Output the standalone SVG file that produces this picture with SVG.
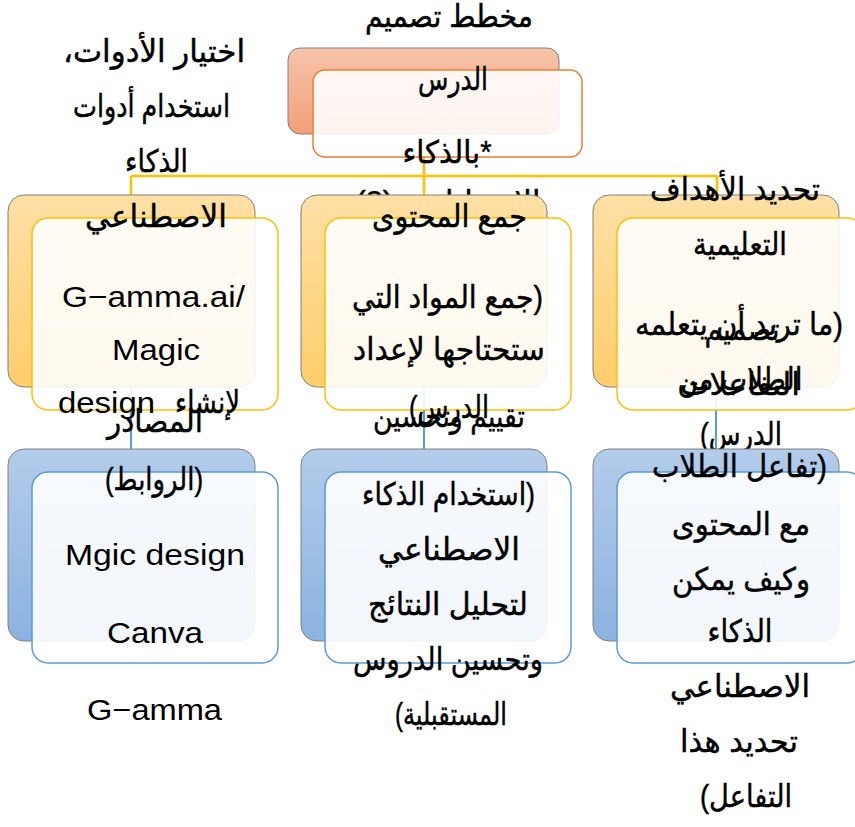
<svg xmlns="http://www.w3.org/2000/svg" width="855" height="827" viewBox="0 0 855 827">
  <defs>
    <linearGradient id="gOrange" x1="0" y1="0" x2="0" y2="1">
      <stop offset="0" stop-color="#F7C4AA"/>
      <stop offset="1" stop-color="#F29F78"/>
    </linearGradient>
    <linearGradient id="gGold" x1="0" y1="0" x2="0" y2="1">
      <stop offset="0" stop-color="#FFE0A6"/>
      <stop offset="1" stop-color="#FFCD6A"/>
    </linearGradient>
    <linearGradient id="gBlue" x1="0" y1="0" x2="0" y2="1">
      <stop offset="0" stop-color="#B3CCEA"/>
      <stop offset="1" stop-color="#8BB2E1"/>
    </linearGradient>
    <style>
      .back { stroke: #808080; stroke-width: 1; }
      .orange { fill: url(#gOrange); }
      .gold { fill: url(#gGold); }
      .blue { fill: url(#gBlue); }
      .front { fill: #FFFFFF; fill-opacity: 0.89; stroke-width: 1.5; }
      .fo { stroke: #EE7E36; }
      .fg { stroke: #FFC000; }
      .fb { stroke: #5B9BD5; }
      .t { font-family: "Liberation Sans", "DejaVu Sans", sans-serif; font-size: 30px; fill: #000000; text-anchor: middle; }
      .ar { direction: rtl; font-size: 31px; stroke: #000000; stroke-width: 0.45; }
      .c1 { fill: none; stroke: #FFC000; stroke-width: 2.5; }
      .c2 { fill: none; stroke: #5B9BD5; stroke-width: 2; }
    </style>
  </defs>

  <rect width="855" height="827" fill="#FFFFFF"/>

  <!-- connectors -->
  <g id="connectors">
    <path class="c1" d="M424 134 V176 M131 176 H717 M131 176 V195 M424 176 V195 M717 176 V195"/>
    <path class="c2" d="M131 387 V449 M424 387 V449 M716 387 V449"/>
  </g>

  <!-- root -->
  <g id="node-root">
    <rect class="back orange" x="288" y="48" width="271" height="86" rx="12"/>
    <rect class="front fo" x="313" y="70" width="269" height="87" rx="12"/>
    <text class="t ar" x="449" y="27" textLength="168" lengthAdjust="spacingAndGlyphs">مخطط تصميم</text>
    <text class="t ar" x="453" y="90" textLength="70" lengthAdjust="spacingAndGlyphs">الدرس</text>
    <text class="t ar" x="447" y="163" textLength="89" lengthAdjust="spacingAndGlyphs">*بالذكاء</text>
    <text class="t ar" x="448" y="213" textLength="185" lengthAdjust="spacingAndGlyphs">الاصطناعي (2)</text>
  </g>

  <!-- level 2: tools -->
  <g id="node-tools">
    <rect class="back gold" x="8" y="195" width="247" height="192" rx="16"/>
    <rect class="front fg" x="32" y="218" width="246" height="192" rx="16"/>
    <text class="t ar" x="154" y="62" textLength="182" lengthAdjust="spacingAndGlyphs">اختيار الأدوات،</text>
    <text class="t ar" x="151.5" y="117" textLength="157" lengthAdjust="spacingAndGlyphs">استخدام أدوات</text>
    <text class="t ar" x="156.5" y="172" textLength="63" lengthAdjust="spacingAndGlyphs">الذكاء</text>
    <text class="t ar" x="156" y="227" textLength="142" lengthAdjust="spacingAndGlyphs">الاصطناعي</text>
    <text class="t" x="153.5" y="307" textLength="183" lengthAdjust="spacingAndGlyphs">G−amma.ai/</text>
    <text class="t" x="156" y="360" textLength="88" lengthAdjust="spacingAndGlyphs">Magic</text>
    <text class="t" x="106.5" y="413" textLength="97" lengthAdjust="spacingAndGlyphs">design</text>
    <text class="t ar" x="207.5" y="413" textLength="65" lengthAdjust="spacingAndGlyphs">لإنشاء</text>
  </g>

  <!-- level 2: content -->
  <g id="node-content">
    <rect class="back gold" x="301" y="195" width="246" height="192" rx="16"/>
    <rect class="front fg" x="325" y="218" width="246" height="192" rx="16"/>
    <text class="t ar" x="449.5" y="227" textLength="155" lengthAdjust="spacingAndGlyphs">جمع المحتوى</text>
    <text class="t ar" x="447.5" y="308" textLength="191" lengthAdjust="spacingAndGlyphs">(جمع المواد التي</text>
    <text class="t ar" x="449" y="360" textLength="192" lengthAdjust="spacingAndGlyphs">ستحتاجها لإعداد</text>
    <text class="t ar" x="449" y="418" textLength="80" lengthAdjust="spacingAndGlyphs">الدرس)</text>
  </g>

  <!-- level 2: objectives -->
  <g id="node-objectives">
    <rect class="back gold" x="593" y="195" width="246" height="192" rx="16"/>
    <rect class="front fg" x="617" y="218" width="246" height="192" rx="16"/>
    <text class="t ar" x="735" y="200" textLength="170" lengthAdjust="spacingAndGlyphs">تحديد الأهداف</text>
    <text class="t ar" x="740" y="255" textLength="94" lengthAdjust="spacingAndGlyphs">التعليمية</text>
    <text class="t ar" x="739" y="335" textLength="208" lengthAdjust="spacingAndGlyphs">(ما تريد أن يتعلمه</text>
    <text class="t ar" x="740" y="390" textLength="125" lengthAdjust="spacingAndGlyphs">الطلاب من</text>
    <text class="t ar" x="741" y="445" textLength="82" lengthAdjust="spacingAndGlyphs">الدرس)</text>
  </g>

  <!-- level 3: resources -->
  <g id="node-resources">
    <rect class="back blue" x="8" y="449" width="247" height="192" rx="16"/>
    <rect class="front fb" x="32" y="472" width="246" height="191" rx="16"/>
    <text class="t ar" x="155" y="432" textLength="96" lengthAdjust="spacingAndGlyphs">المصادر</text>
    <text class="t ar" x="154" y="490" textLength="98" lengthAdjust="spacingAndGlyphs">(الروابط)</text>
    <text class="t" x="155" y="565" textLength="180" lengthAdjust="spacingAndGlyphs">Mgic design</text>
    <text class="t" x="155" y="643" textLength="96" lengthAdjust="spacingAndGlyphs">Canva</text>
    <text class="t" x="154.5" y="720" textLength="135" lengthAdjust="spacingAndGlyphs">G−amma</text>
  </g>

  <!-- level 3: evaluation -->
  <g id="node-evaluation">
    <rect class="back blue" x="301" y="449" width="246" height="192" rx="16"/>
    <rect class="front fb" x="325" y="472" width="246" height="191" rx="16"/>
    <text class="t ar" x="449" y="427" textLength="152" lengthAdjust="spacingAndGlyphs">تقييم وتحسين</text>
    <text class="t ar" x="448.5" y="505" textLength="173" lengthAdjust="spacingAndGlyphs">(استخدام الذكاء</text>
    <text class="t ar" x="449" y="560" textLength="142" lengthAdjust="spacingAndGlyphs">الاصطناعي</text>
    <text class="t ar" x="448" y="615" textLength="160" lengthAdjust="spacingAndGlyphs">لتحليل النتائج</text>
    <text class="t ar" x="448" y="670" textLength="190" lengthAdjust="spacingAndGlyphs">وتحسين الدروس</text>
    <text class="t ar" x="451" y="725" textLength="112" lengthAdjust="spacingAndGlyphs">المستقبلية)</text>
  </g>

  <!-- level 3: interaction -->
  <g id="node-interaction">
    <rect class="back blue" x="593" y="449" width="246" height="192" rx="16"/>
    <rect class="front fb" x="617" y="472" width="246" height="191" rx="16"/>
    <text class="t ar" x="742" y="340" textLength="75" lengthAdjust="spacingAndGlyphs">تصميم</text>
    <text class="t ar" x="740" y="395" textLength="120" lengthAdjust="spacingAndGlyphs">التفاعلات</text>
    <text class="t ar" x="739.5" y="477" textLength="175" lengthAdjust="spacingAndGlyphs">(تفاعل الطلاب</text>
    <text class="t ar" x="741" y="535" textLength="138" lengthAdjust="spacingAndGlyphs">مع المحتوى</text>
    <text class="t ar" x="741" y="590" textLength="138" lengthAdjust="spacingAndGlyphs">وكيف يمكن</text>
    <text class="t ar" x="740" y="642" textLength="65" lengthAdjust="spacingAndGlyphs">الذكاء</text>
    <text class="t ar" x="740" y="697" textLength="140" lengthAdjust="spacingAndGlyphs">الاصطناعي</text>
    <text class="t ar" x="739" y="752" textLength="118" lengthAdjust="spacingAndGlyphs">تحديد هذا</text>
    <text class="t ar" x="746" y="807" textLength="92" lengthAdjust="spacingAndGlyphs">التفاعل)</text>
  </g>
</svg>
